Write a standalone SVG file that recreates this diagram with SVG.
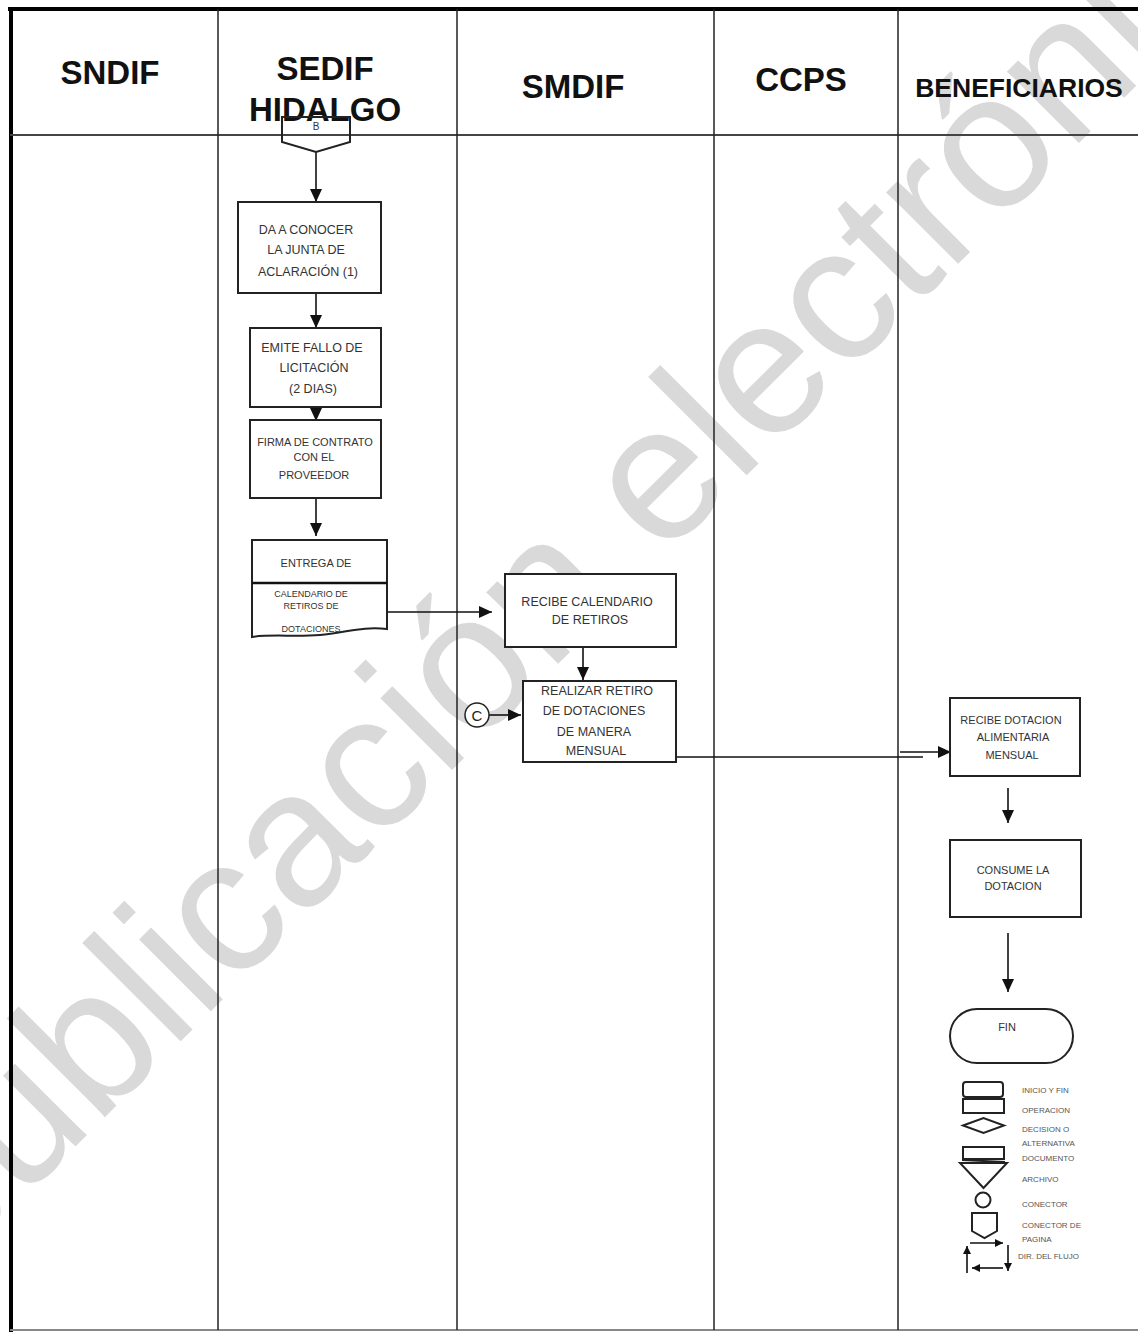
<svg xmlns="http://www.w3.org/2000/svg" width="1138" height="1332" viewBox="0 0 1138 1332">
<style>
.hdr{font-family:"Liberation Sans",Arial,sans-serif;font-weight:bold;fill:#111;text-anchor:middle}
.t{font-family:"Liberation Sans",Arial,sans-serif;font-size:12.5px;fill:#333;text-anchor:middle}
.ts{font-family:"Liberation Sans",Arial,sans-serif;font-size:11px;fill:#333;text-anchor:middle}
.tx{font-family:"Liberation Sans",Arial,sans-serif;font-size:9px;fill:#333;text-anchor:middle}
.lg{font-family:"Liberation Sans",Arial,sans-serif;font-size:8px;fill:#555}
.box{fill:#fff;stroke:#222;stroke-width:2}
.col{stroke:#222;stroke-width:1.5}
.con{stroke:#111;stroke-width:1.6;fill:none}
.lgs{fill:#fff;stroke:#222;stroke-width:2}
.wm{font-family:"Liberation Sans",Arial,sans-serif;font-size:192px;fill:#d9d9d9}
</style>
<defs>
<marker id="ah" markerUnits="userSpaceOnUse" markerWidth="13" markerHeight="12" refX="13" refY="6" orient="auto"><path d="M0,0 L13,6 L0,12 z" fill="#111"/></marker>
<marker id="ahs" markerUnits="userSpaceOnUse" markerWidth="8" markerHeight="8" refX="8" refY="4" orient="auto"><path d="M0,0 L8,4 L0,8 z" fill="#111"/></marker>
</defs>
<rect width="1138" height="1332" fill="#fff"/>
<text class="wm" transform="translate(-55,1277) rotate(-45)">publicación electrónica</text>
<g id="frame">
<line x1="8" y1="9" x2="1138" y2="9" stroke="#000" stroke-width="4"/>
<line x1="11" y1="7" x2="11" y2="1332" stroke="#000" stroke-width="4"/>
<line x1="10" y1="135" x2="1138" y2="135" stroke="#444" stroke-width="2"/>
<line x1="10" y1="1330" x2="1138" y2="1330" stroke="#888" stroke-width="2"/>
<line class="col" x1="218" y1="9" x2="218" y2="1330"/>
<line class="col" x1="457" y1="9" x2="457" y2="1330"/>
<line class="col" x1="714" y1="9" x2="714" y2="1330"/>
<line class="col" x1="898" y1="9" x2="898" y2="1330"/>
</g>
<g id="headers">
<text class="hdr" x="110" y="84" font-size="33">SNDIF</text>
<text class="hdr" x="325" y="80" font-size="33">SEDIF</text>
<text class="hdr" x="325" y="121" font-size="33">HIDALGO</text>
<text class="hdr" x="573" y="98" font-size="33">SMDIF</text>
<text class="hdr" x="801" y="91" font-size="33">CCPS</text>
<text class="hdr" x="1019" y="97" font-size="26.5">BENEFICIARIOS</text>
</g>
<g id="connectors">
<line class="con" x1="316" y1="152" x2="316" y2="202" marker-end="url(#ah)"/>
<line class="con" x1="316" y1="293" x2="316" y2="328" marker-end="url(#ah)"/>
<line class="con" x1="316" y1="407" x2="316" y2="421" marker-end="url(#ah)"/>
<line class="con" x1="316" y1="498" x2="316" y2="536" marker-end="url(#ah)"/>
<line class="con" x1="387" y1="612" x2="492" y2="612" marker-end="url(#ah)"/>
<line class="con" x1="583" y1="640" x2="583" y2="680" marker-end="url(#ah)"/>
<line class="con" x1="489" y1="715" x2="521" y2="715" marker-end="url(#ah)"/>
<line class="con" x1="676" y1="757" x2="923" y2="757"/>
<line class="con" x1="900" y1="752" x2="951" y2="752" marker-end="url(#ah)"/>
<line class="con" x1="1008" y1="788" x2="1008" y2="823" marker-end="url(#ah)"/>
<line class="con" x1="1008" y1="933" x2="1008" y2="992" marker-end="url(#ah)"/>
</g>
<g id="offpage-B">
<path class="box" d="M282,117 H350 V142 L316,152 L282,142 Z" fill="none" style="fill:none"/>
<text x="316" y="130" font-family="Liberation Sans, Arial, sans-serif" font-size="10" fill="#333" text-anchor="middle">B</text>
</g>
<g id="n1">
<rect class="box" x="238" y="202" width="143" height="91"/>
<text class="t" x="306" y="234">DA A CONOCER</text>
<text class="t" x="306" y="254">LA  JUNTA DE</text>
<text class="t" x="308" y="276">ACLARACIÓN  (1)</text>
</g>
<g id="n2">
<rect class="box" x="250" y="328" width="131" height="79"/>
<text class="t" x="312" y="352">EMITE  FALLO DE</text>
<text class="t" x="314" y="372">LICITACIÓN</text>
<text class="t" x="313" y="393">(2 DIAS)</text>
</g>
<g id="n3">
<rect class="box" x="250" y="420" width="131" height="78"/>
<text class="ts" x="315" y="446">FIRMA DE CONTRATO</text>
<text class="ts" x="314" y="461">CON EL</text>
<text class="ts" x="314" y="479">PROVEEDOR</text>
</g>
<g id="n4">
<path class="box" d="M252,540 H387 V629 C362,626 345,633 320,635 C295,637 270,634 252,637 Z"/>
<line x1="252" y1="583" x2="387" y2="583" stroke="#111" stroke-width="2.5"/>
<text class="ts" x="316" y="567">ENTREGA DE</text>
<text class="tx" x="311" y="597">CALENDARIO DE</text>
<text class="tx" x="311" y="609">RETIROS DE</text>
<text class="tx" x="311" y="632">DOTACIONES</text>
</g>
<g id="n5">
<rect class="box" x="505" y="574" width="171" height="73"/>
<text class="t" x="587" y="606">RECIBE  CALENDARIO</text>
<text class="t" x="590" y="624">DE RETIROS</text>
</g>
<g id="conC">
<circle cx="477" cy="715" r="12" fill="#fff" stroke="#222" stroke-width="1.5"/>
<text x="477" y="720.5" font-family="Liberation Sans, Arial, sans-serif" font-size="15" fill="#222" text-anchor="middle">C</text>
</g>
<g id="n6">
<rect class="box" x="523" y="681" width="153" height="81"/>
<text class="t" x="597" y="695">REALIZAR  RETIRO</text>
<text class="t" x="594" y="715">DE DOTACIONES</text>
<text class="t" x="594" y="736">DE  MANERA</text>
<text class="t" x="596" y="755">MENSUAL</text>
</g>
<g id="n7">
<rect class="box" x="950" y="698" width="130" height="78"/>
<text class="ts" x="1011" y="724">RECIBE DOTACION</text>
<text class="ts" x="1013" y="741">ALIMENTARIA</text>
<text class="ts" x="1012" y="759">MENSUAL</text>
</g>
<g id="n8">
<rect class="box" x="950" y="840" width="131" height="77"/>
<text class="ts" x="1013" y="874">CONSUME LA</text>
<text class="ts" x="1013" y="890">DOTACION</text>
</g>
<g id="fin">
<rect class="box" x="950" y="1009" width="123" height="54" rx="27" ry="27"/>
<text class="ts" x="1007" y="1031">FIN</text>
</g>
<g id="legend">
<rect class="lgs" x="963" y="1082" width="40" height="15" rx="3"/>
<rect class="lgs" x="963" y="1099" width="41" height="14"/>
<path class="lgs" d="M963,1125.5 L983.5,1118 L1004,1125.5 L983.5,1133 Z"/>
<rect class="lgs" x="963" y="1147" width="41" height="12"/>
<line x1="962" y1="1160" x2="1005" y2="1162" stroke="#222" stroke-width="2"/>
<path class="lgs" d="M960,1163 H1007 L983.5,1188 Z"/>
<circle class="lgs" cx="983" cy="1200" r="7.5"/>
<path class="lgs" d="M972,1213 H997 V1231 L984.5,1238 L972,1231 Z"/>
<line class="con" x1="970" y1="1243" x2="1003" y2="1243" marker-end="url(#ahs)" stroke-width="2"/>
<line class="con" x1="1008" y1="1245" x2="1008" y2="1271" marker-end="url(#ahs)" stroke-width="2"/>
<line class="con" x1="1003" y1="1268" x2="972" y2="1268" marker-end="url(#ahs)" stroke-width="2"/>
<line class="con" x1="967" y1="1273" x2="967" y2="1246" marker-end="url(#ahs)" stroke-width="2"/>
<text class="lg" x="1022" y="1093">INICIO Y FIN</text>
<text class="lg" x="1022" y="1113">OPERACION</text>
<text class="lg" x="1022" y="1132">DECISION O</text>
<text class="lg" x="1022" y="1146">ALTERNATIVA</text>
<text class="lg" x="1022" y="1161">DOCUMENTO</text>
<text class="lg" x="1022" y="1182">ARCHIVO</text>
<text class="lg" x="1022" y="1207">CONECTOR</text>
<text class="lg" x="1022" y="1228">CONECTOR DE</text>
<text class="lg" x="1022" y="1242">PAGINA</text>
<text class="lg" x="1018" y="1259">DIR. DEL FLUJO</text>
</g>
</svg>
